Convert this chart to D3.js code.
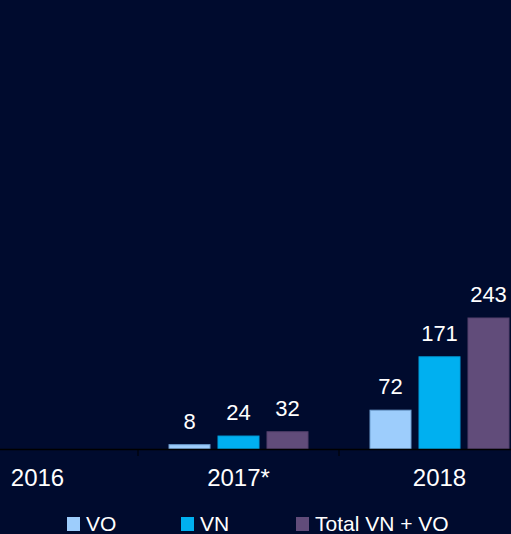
<!DOCTYPE html>
<html>
<head>
<meta charset="utf-8">
<script src="https://cdn.jsdelivr.net/npm/d3@7"></script>
<style>
  html, body { margin: 0; padding: 0; background: #000b2e; overflow: hidden; }
  svg { display: block; font-family: 'Liberation Sans', Arial, sans-serif; }
</style>
</head>
<body>
<div id="chart"></div>
<script>
const years = ['2016', '2017*', '2018'];
const series = ['VO', 'VN', 'Total VN + VO'];
const vo = [null, 8, 72];
const vn = [null, 24, 171];
const total = [null, 32, 243];

const colors = ['#9dcdfc', '#00b0f0', '#614c7a'];
const strokes = ['#6f9fd0', '#00a0dd', '#54406c'];

const w = 511, h = 534, baseY = 449;

const svg = d3.select('#chart')
              .append('svg')
              .attr('width', w)
              .attr('height', h);

svg.append('rect')
   .attr('width', w)
   .attr('height', h)
   .attr('fill', '#000b2e');

const xScale = d3.scaleBand()
                 .domain(years)
                 .range([-63, 540]);

const xSub = d3.scaleBand()
               .domain(series)
               .range([31, 170])
               .paddingInner(8 / 49);

const yScale = d3.scaleLinear()
                 .domain([0, 243])
                 .range([baseY, 318]);

const values = [vo, vn, total];
const rows = [];
years.forEach((y, i) => {
  series.forEach((s, j) => {
    if (values[j][i] != null) rows.push({ year: y, s: s, j: j, v: values[j][i] });
  });
});

svg.selectAll('rect.bar')
   .data(rows)
   .enter()
   .append('rect')
   .attr('class', 'bar')
   .attr('x', d => xScale(d.year) + xSub(d.s))
   .attr('y', d => yScale(d.v))
   .attr('width', xSub.bandwidth())
   .attr('height', d => baseY - yScale(d.v))
   .attr('fill', d => colors[d.j])
   .attr('stroke', d => strokes[d.j])
   .attr('stroke-width', 1);

svg.selectAll('text.val')
   .data(rows)
   .enter()
   .append('text')
   .attr('class', 'val')
   .attr('x', d => xScale(d.year) + xSub(d.s) + xSub.bandwidth() / 2)
   .attr('y', d => yScale(d.v) - 16)
   .attr('text-anchor', 'middle')
   .attr('fill', '#ffffff')
   .style('font-size', '22px')
   .text(d => d.v);

// x axis
const axisX = d3.axisBottom(xScale).tickSize(0).tickSizeOuter(0);
const gx = svg.append('g')
              .attr('transform', `translate(0, ${baseY})`)
              .call(axisX);
gx.select('.domain').attr('stroke', '#000000').attr('stroke-width', 1.5);
gx.selectAll('text')
  .attr('fill', '#ffffff')
  .attr('dy', 0)
  .attr('y', 37)
  .style('font-size', '24px')
  .style('font-family', "'Liberation Sans', Arial, sans-serif");

// separators between categories
svg.selectAll('line.sep')
   .data(years.slice(1))
   .enter()
   .append('line')
   .attr('x1', d => xScale(d))
   .attr('x2', d => xScale(d))
   .attr('y1', baseY)
   .attr('y2', baseY + 7)
   .attr('stroke', '#000000')
   .attr('stroke-width', 1);

// legend
const legX = [67, 181, 296];
const leg = svg.selectAll('g.leg')
               .data(series)
               .enter()
               .append('g')
               .attr('transform', (d, i) => `translate(${legX[i]}, 517)`);

leg.append('rect')
   .attr('width', 13)
   .attr('height', 14)
   .attr('fill', (d, i) => colors[i]);

leg.append('text')
   .attr('x', 19)
   .attr('y', 14)
   .attr('fill', '#ffffff')
   .style('font-size', '21px')
   .text(d => d);
</script>
</body>
</html>
